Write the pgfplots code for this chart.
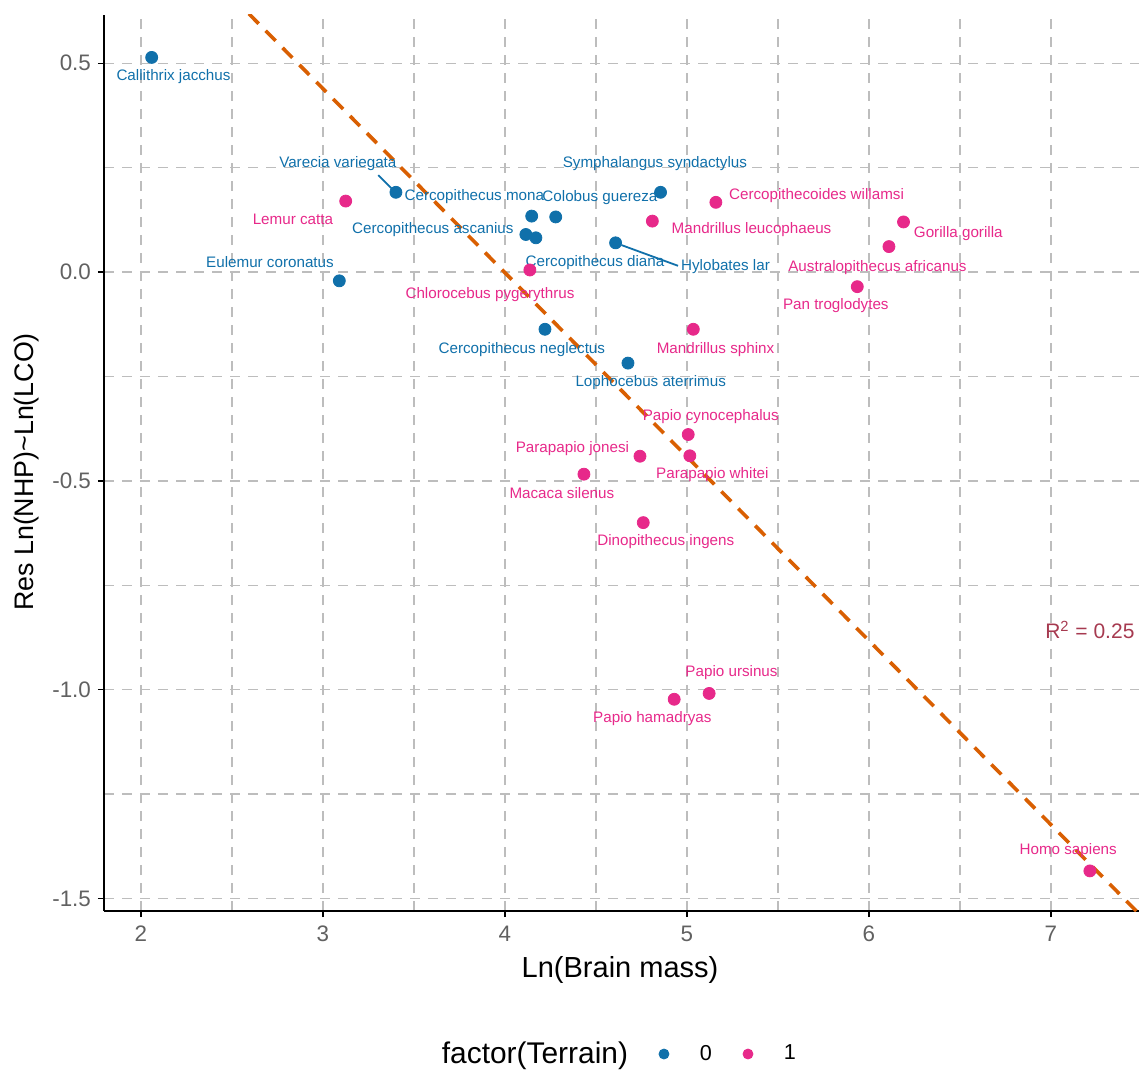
\documentclass[border=0pt]{standalone}
\usepackage{pgfplots}
\pgfplotsset{compat=1.18}
\usepackage{fontspec}
\setmainfont{Liberation Sans}
\definecolor{tblue}{HTML}{1070AA}
\definecolor{tpink}{HTML}{E7298A}
\definecolor{fitc}{HTML}{D95F02}
\definecolor{rcol}{HTML}{A63A50}
\definecolor{gridc}{HTML}{BDBDBD}
\begin{document}
\begin{tikzpicture}
\begin{axis}[
  name=ax,
  width=517.5pt, height=448pt, scale only axis,
  xmin=1.797, xmax=7.484, ymin=-1.530, ymax=0.6156,
  axis lines=left, axis line style={line width=0.75pt,-},
  xtick={2,3,4,5,6,7},
  ytick={-1.5,-1,-0.5,0,0.5},
  yticklabels={-1.5,-1.0,-0.5,0.0,0.5},
  minor xtick={2.5,3.5,4.5,5.5,6.5},
  minor ytick={-1.25,-0.75,-0.25,0.25},
  grid=both,
  major grid style={gridc, line width=0.7pt, dash pattern=on 5pt off 4pt},
  minor grid style={gridc, line width=0.7pt, dash pattern=on 5pt off 4pt},
  tick style={black, line width=0.75pt},
  major tick length=3pt, minor tick length=0pt,
  tick align=outside,
  /pgf/number format/assume math mode=true,
  ticklabel style={font=\fontsize{11.2}{13}\selectfont, text=black!62},
  xticklabel style={yshift=-1pt},
  xlabel={Ln(Brain mass)},
  ylabel={Res Ln(NHP)\textasciitilde Ln(LCO)},
  xlabel style={font=\fontsize{14.5}{16}\selectfont, at={(axis description cs:0.4986,-0.0658)}, anchor=center},
  ylabel style={font=\fontsize{13.4}{15}\selectfont, at={(axis description cs:-0.0747,0.49)}, anchor=center},
  legend style={at={(axis description cs:0.3222,-0.1596)}, anchor=west,
    draw=none, fill=none, inner sep=0pt, font=\fontsize{10.8}{13}\selectfont,
    /tikz/every even column/.append style={column sep=8pt},
    /tikz/column 2/.style={column sep=4pt}},
  legend columns=-1,
  legend cell align=left,
]
\addlegendimage{empty legend}
\addlegendentry{\fontsize{14.95}{16}\selectfont factor(Terrain)}

\addplot[fitc, line width=1.8pt, dash pattern=on 7pt off 5pt, forget plot]
  coordinates {(2.5,0.6595) (7.6,-1.5876)};

\addplot[tblue, line width=0.9pt, forget plot] coordinates {(3.304,0.232) (3.40,0.19)};
\addplot[tblue, line width=0.9pt, forget plot] coordinates {(4.64,0.0647) (4.951,0.015)};

\addplot[only marks, mark=*, mark size=3pt, mark options={draw=none, fill=tblue}, color=tblue,
  legend image code/.code={\path[draw=none,fill=none] (0pt,-2pt) rectangle (24pt,2pt);
    \path[only marks, mark size=2.5pt] plot coordinates {(8pt,0pt)};}]
  coordinates {
  (2.059,0.514) (3.401,0.191) (4.147,0.134) (4.279,0.132) (4.115,0.090)
  (4.170,0.082) (4.855,0.191) (4.608,0.070) (3.090,-0.021) (4.220,-0.137)
  (4.676,-0.218)
  };
\addlegendentry{0}

\addplot[only marks, mark=*, mark size=3pt, mark options={draw=none, fill=tpink}, color=tpink,
  legend image code/.code={\path[draw=none,fill=none] (0pt,-2pt) rectangle (24pt,2pt);
    \path[only marks, mark size=2.5pt] plot coordinates {(8pt,0pt)};}]
  coordinates {
  (3.125,0.170) (4.137,0.005) (4.810,0.122) (5.159,0.167) (6.190,0.120)
  (6.110,0.061) (5.936,-0.035) (5.035,-0.137) (5.007,-0.389) (5.016,-0.440)
  (4.742,-0.441) (4.434,-0.484) (4.760,-0.600) (4.930,-1.023) (5.122,-1.009)
  (7.214,-1.434)
  };
\addlegendentry{1}

\begin{scope}[every node/.style={font=\fontsize{7.6}{8}\selectfont, inner sep=0pt, anchor=center}]
\node[text=tblue] at (axis cs:2.179,0.468) {Callithrix jacchus};
\node[text=tblue] at (axis cs:3.082,0.259) {Varecia variegata};
\node[text=tblue] at (axis cs:3.832,0.180) {Cercopithecus mona};
\node[text=tblue] at (axis cs:4.522,0.179) {Colobus guereza};
\node[text=tblue] at (axis cs:4.824,0.259) {Symphalangus syndactylus};
\node[text=tblue] at (axis cs:3.604,0.102) {Cercopithecus ascanius};
\node[text=tblue] at (axis cs:4.495,0.023) {Cercopithecus diana};
\node[text=tblue] at (axis cs:5.212,0.014) {Hylobates lar};
\node[text=tblue] at (axis cs:2.709,0.0248) {Eulemur coronatus};
\node[text=tblue] at (axis cs:4.093,-0.185) {Cercopithecus neglectus};
\node[text=tblue] at (axis cs:4.801,-0.265) {Lophocebus aterrimus};
\node[text=tpink] at (axis cs:2.835,0.126) {Lemur catta};
\node[text=tpink] at (axis cs:3.918,-0.053) {Chlorocebus pygerythrus};
\node[text=tpink] at (axis cs:5.355,0.102) {Mandrillus leucophaeus};
\node[text=tpink] at (axis cs:5.712,0.182) {Cercopithecoides willamsi};
\node[text=tpink] at (axis cs:6.491,0.0926) {Gorilla gorilla};
\node[text=tpink] at (axis cs:6.047,0.0112) {Australopithecus africanus};
\node[text=tpink] at (axis cs:5.818,-0.0814) {Pan troglodytes};
\node[text=tpink] at (axis cs:5.157,-0.185) {Mandrillus sphinx};
\node[text=tpink] at (axis cs:5.131,-0.345) {Papio cynocephalus};
\node[text=tpink] at (axis cs:4.371,-0.422) {Parapapio jonesi};
\node[text=tpink] at (axis cs:5.140,-0.486) {Parapapio whitei};
\node[text=tpink] at (axis cs:4.313,-0.530) {Macaca silenus};
\node[text=tpink] at (axis cs:4.884,-0.646) {Dinopithecus ingens};
\node[text=tpink] at (axis cs:5.245,-0.960) {Papio ursinus};
\node[text=tpink] at (axis cs:4.810,-1.069) {Papio hamadryas};
\node[text=tpink] at (axis cs:7.095,-1.386) {Homo sapiens};
\end{scope}
\node[text=rcol, font=\fontsize{10.5}{12}\selectfont, inner sep=0pt, anchor=center]
  at (axis cs:7.214,-0.857) {R\textsuperscript{2} = 0.25};
\end{axis}
\pgfresetboundingbox
\path[use as bounding box] ([xshift=-52pt,yshift=-79.5pt]ax.south west) rectangle ([yshift=7.5pt]ax.north east);
\end{tikzpicture}
\end{document}
